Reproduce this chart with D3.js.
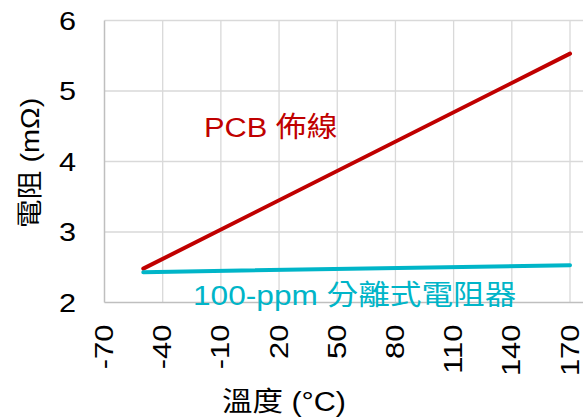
<!DOCTYPE html>
<html>
<head>
<meta charset="utf-8">
<script src="https://cdn.jsdelivr.net/npm/d3@7"></script>
<style>
  html, body { margin: 0; padding: 0; background: #fff; }
  svg { display: block; }
  text { font-family: "Liberation Sans", Arial, "Noto Sans CJK TC", sans-serif; }
</style>
</head>
<body>
<svg id="chart" width="583" height="419"></svg>
<script>
// Temperature ticks (°C) and resistance ticks (mΩ)
const xTicks = [-70, -40, -10, 20, 50, 80, 110, 140, 170];
const yTicks = [2, 3, 4, 5, 6];

// Resistance vs temperature: PCB copper trace and 100-ppm discrete resistor
const temps = [-50, 170];
const pcbTrace = [2.48, 5.53];
const discreteResistor = [2.43, 2.53];

const seriesNames = ["PCB 佈線", "100-ppm 分離式電阻器"];
const xTitle = "溫度 (°C)";
const yTitle = "電阻 (mΩ)";

const W = 583, H = 419;
const plot = { left: 104.5, right: 570, top: 20.5, bottom: 302.5 };
const wide = 1.13; // glyphs are set slightly wide

const svg = d3.select("#chart");

const x = d3.scaleLinear().domain([-70, 170]).range([plot.left, plot.right]);
const y = d3.scaleLinear().domain([2, 6]).range([plot.bottom, plot.top]);

// Gridlines
const grid = svg.append("g");
grid.selectAll("line.h")
  .data(yTicks.slice(1))
  .join("line")
  .attr("x1", plot.left).attr("x2", W)
  .attr("y1", d => y(d)).attr("y2", d => y(d))
  .attr("stroke", "#d9d9d9").attr("stroke-width", 1.3);
grid.selectAll("line.v")
  .data(xTicks.slice(1))
  .join("line")
  .attr("x1", d => x(d)).attr("x2", d => x(d))
  .attr("y1", plot.top).attr("y2", plot.bottom)
  .attr("stroke", "#d9d9d9").attr("stroke-width", 1.3);

// Axis lines
svg.append("line")
  .attr("x1", plot.left).attr("x2", plot.left)
  .attr("y1", plot.top).attr("y2", plot.bottom)
  .attr("stroke", "#bfbfbf").attr("stroke-width", 1.5);
svg.append("line")
  .attr("x1", plot.left).attr("x2", W)
  .attr("y1", plot.bottom).attr("y2", plot.bottom)
  .attr("stroke", "#bfbfbf").attr("stroke-width", 1.5);

// Y tick labels
svg.append("g").selectAll("text")
  .data(yTicks)
  .join("text")
  .attr("transform", d => `translate(76,${y(d)}) scale(${wide + 0.05},1)`)
  .attr("text-anchor", "end")
  .attr("dominant-baseline", "central")
  .attr("font-size", 26)
  .attr("fill", "#000")
  .text(d => d);

// X tick labels, rotated; the digit body is centred on each tick
const xLabelSize = 26;
svg.append("g").selectAll("text")
  .data(xTicks)
  .join("text")
  .attr("transform", d => `translate(${x(d) + 0.35 * xLabelSize - 0.5},${plot.bottom + 22}) rotate(-90) scale(${wide + 0.06},1)`)
  .attr("text-anchor", "end")
  .attr("font-size", xLabelSize)
  .attr("fill", "#000")
  .text(d => d);

// Series lines
const line = d3.line().x(d => x(d[0])).y(d => y(d[1]));
const colors = ["#c00000", "#00b5c8"];
[pcbTrace, discreteResistor].forEach((vals, i) => {
  svg.append("path")
    .datum(temps.map((t, j) => [t, vals[j]]))
    .attr("d", line)
    .attr("fill", "none")
    .attr("stroke", colors[i])
    .attr("stroke-width", 4)
    .attr("stroke-linecap", "round");
});

// Series labels
svg.append("text")
  .attr("transform", `translate(204,137) scale(${wide - 0.03},1)`)
  .attr("font-size", 28)
  .attr("fill", colors[0])
  .text(seriesNames[0]);
svg.append("text")
  .attr("transform", `translate(193,305) scale(${wide},1)`)
  .attr("font-size", 28)
  .attr("fill", colors[1])
  .text(seriesNames[1]);

// Axis titles
svg.append("text")
  .attr("transform", `translate(284,411) scale(${wide},1)`)
  .attr("text-anchor", "middle")
  .attr("font-size", 27)
  .attr("fill", "#000")
  .text(xTitle);
svg.append("text")
  .attr("transform", `translate(30,163) rotate(-90) scale(${wide - 0.02},1)`)
  .attr("text-anchor", "middle")
  .attr("dominant-baseline", "central")
  .attr("font-size", 26)
  .attr("fill", "#000")
  .text(yTitle);
</script>
</body>
</html>
